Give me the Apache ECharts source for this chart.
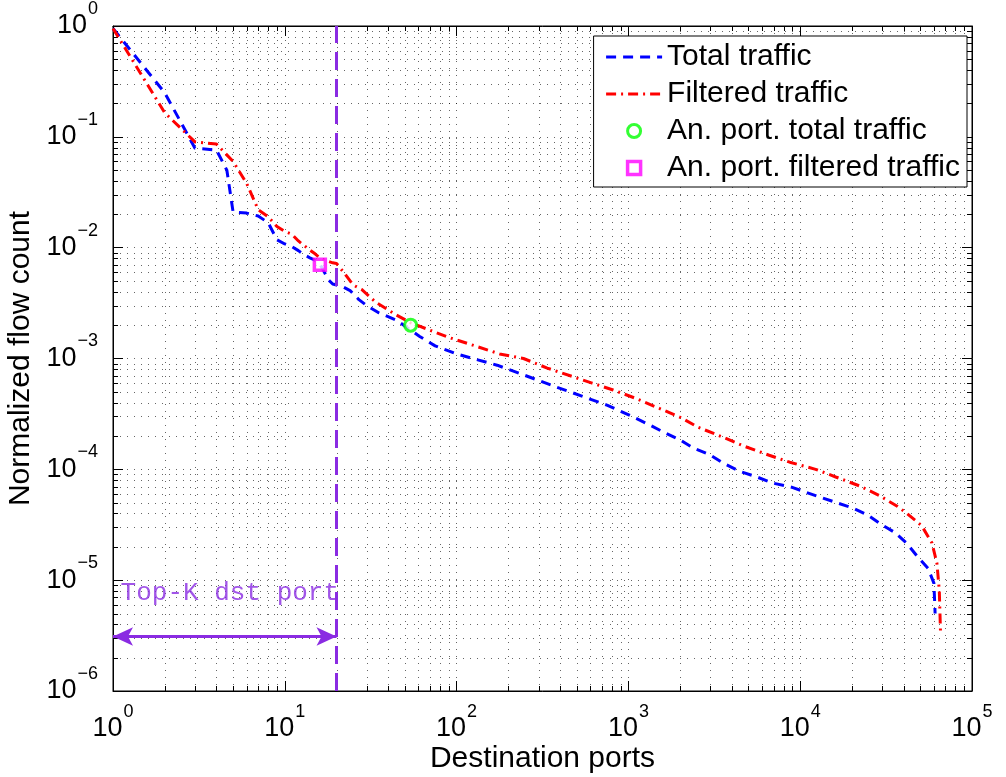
<!DOCTYPE html>
<html>
<head>
<meta charset="utf-8">
<script src="https://cdn.jsdelivr.net/npm/echarts@6/dist/echarts.min.js"></script>
<style>
html, body { margin: 0; padding: 0; background: #fff; }
#main { width: 1006px; height: 777px; }
</style>
</head>
<body>
<div id="main"></div>
<script>
// total traffic: destination port rank -> normalized flow count
var totalPorts = [1, 2, 3, 4, 4.6, 5, 6, 7, 8, 9, 10, 11, 12, 13, 14, 15, 16, 17, 18, 19, 20, 22, 24, 27, 30, 35, 45, 54, 61, 75, 100, 124, 172, 224, 295, 384, 457, 598, 750, 1070, 1340, 1590, 2000, 2380, 2990, 3550, 4450, 5600, 6900, 8900, 10400, 13000, 16600, 20300, 24700, 30000, 35500, 41700, 48500, 55500, 60000, 61000];
var totalFlow = [0.95, 0.25, 0.079, 0.076, 0.05, 0.021, 0.0205, 0.0193, 0.0168, 0.0118, 0.0108, 0.0102, 0.0094, 0.0086, 0.0081, 0.0077, 0.0071, 0.0060, 0.0051, 0.0047, 0.0046, 0.0044, 0.0041, 0.0034, 0.0030, 0.0026, 0.0022, 0.0018, 0.00158, 0.0013, 0.0011, 0.001, 0.00087, 0.00075, 0.00064, 0.00055, 0.0005, 0.00043, 0.00038, 0.000296, 0.00025, 0.000218, 0.000184, 0.000156, 0.000135, 0.000114, 0.0000958, 0.0000853, 0.0000753, 0.000069, 0.0000634, 0.0000563, 0.0000495, 0.0000447, 0.0000387, 0.0000314, 0.000027, 0.0000215, 0.0000161, 0.0000128, 0.0000094, 0.000005];

// filtered traffic
var filteredPorts = [1, 2, 3, 4, 5, 6, 7, 8, 9, 10, 11, 12, 13, 14, 15, 16, 17, 18, 19, 20, 22, 25, 28, 34, 44, 54, 70, 90, 126, 178, 245, 337, 470, 615, 815, 1090, 1480, 2000, 2540, 3550, 4650, 6600, 8700, 12300, 16100, 22200, 29200, 36500, 41600, 51000, 58500, 62500, 64500, 65535];
var filteredFlow = [0.95, 0.165, 0.09, 0.086, 0.060, 0.038, 0.022, 0.019, 0.0155, 0.014, 0.0132, 0.0115, 0.0104, 0.0095, 0.0088, 0.0081, 0.0077, 0.0075, 0.0073, 0.0072, 0.0060, 0.0046, 0.0042, 0.0032, 0.0025, 0.0021, 0.0018, 0.00155, 0.00131, 0.0011, 0.001, 0.00082, 0.00069, 0.0006, 0.00052, 0.00044, 0.00036, 0.000295, 0.00024, 0.000195, 0.000163, 0.000134, 0.000116, 0.0001, 0.0000853, 0.0000708, 0.0000575, 0.0000467, 0.0000403, 0.0000309, 0.0000216, 0.0000142, 0.0000081, 0.0000035];

// analysed ports
var anPortTotal = [54, 0.002];
var anPortFiltered = [16, 0.0070];

// top-K annotation
var topK = 20;
var topKArrowY = 3.1e-6;
var topKText = 'Top-K dst port';
var topKTextPos = [1.1, 7.6e-6];

var xMin = 1, xMax = 100000;
var yMin = 1e-6, yMax = 1;

var purple = '#8A2BE2';
var font = 'Liberation Sans';

function zip(xs, ys) {
    var out = [];
    for (var i = 0; i < xs.length; i++) out.push([xs[i], ys[i]]);
    return out;
}

// minor grid values 2..9 per decade
var minorItems = [];
for (var e = 0; e < 5; e++) {
    for (var m = 2; m < 10; m++) minorItems.push([m * Math.pow(10, e), 1, 0]);
}
for (var e2 = -6; e2 < 0; e2++) {
    for (var m2 = 2; m2 < 10; m2++) minorItems.push([1, m2 * Math.pow(10, e2), 1]);
}

function renderMinor(params, api) {
    var cs = params.coordSys;
    var kind = api.value(2);
    var p = api.coord([api.value(0), api.value(1)]);
    var dotted = { stroke: '#000', lineWidth: 1, lineDash: [1, 6], opacity: 0.6 };
    var tick = { stroke: '#000', lineWidth: 1 };
    if (kind === 0) {
        var x = Math.round(p[0]) + 0.5;
        return { type: 'group', children: [
            { type: 'line', shape: { x1: x, y1: cs.y, x2: x, y2: cs.y + cs.height }, style: dotted },
            { type: 'line', shape: { x1: x, y1: cs.y + cs.height, x2: x, y2: cs.y + cs.height - 5 }, style: tick },
            { type: 'line', shape: { x1: x, y1: cs.y, x2: x, y2: cs.y + 5 }, style: tick }
        ]};
    }
    var y = Math.round(p[1]) + 0.5;
    return { type: 'group', children: [
        { type: 'line', shape: { x1: cs.x, y1: y, x2: cs.x + cs.width, y2: y }, style: dotted },
        { type: 'line', shape: { x1: cs.x, y1: y, x2: cs.x + 5, y2: y }, style: tick },
        { type: 'line', shape: { x1: cs.x + cs.width, y1: y, x2: cs.x + cs.width - 5, y2: y }, style: tick }
    ]};
}

function powLabel(v) {
    var ex = Math.round(Math.log10(v));
    return '{b|10}{s|' + String(ex).replace('-', '\u2212') + '}';
}

var labelRich = {
    b: { fontSize: 27, fontFamily: font, color: '#000', lineHeight: 30 },
    s: { fontSize: 18, fontFamily: font, color: '#000', lineHeight: 18, padding: [0, 0, 34, 1] }
};

var splitStyle = { show: true, lineStyle: { color: '#000', width: 1, type: [1, 6], opacity: 0.6 } };

var chart = echarts.init(document.getElementById('main'));
chart.setOption({
    animation: false,
    backgroundColor: '#fff',
    textStyle: { fontFamily: font },
    grid: {
        left: 113, right: 34, top: 26, bottom: 86,
        outerBoundsMode: 'none', containLabel: false,
        show: true, borderColor: '#000', borderWidth: 1, backgroundColor: '#fff'
    },
    legend: {
        orient: 'vertical',
        right: 39,
        top: 36,
        backgroundColor: '#fff',
        borderColor: '#000',
        borderWidth: 1,
        borderRadius: 0,
        padding: [5, 7, 3, 11],
        itemGap: 5,
        itemWidth: 56,
        itemHeight: 13,
        lineStyle: { width: 3 },
        textStyle: { fontSize: 30, fontFamily: font, color: '#000', lineHeight: 32 },
        data: [
            { name: 'Total traffic', itemStyle: { opacity: 0 } },
            { name: 'Filtered traffic', itemStyle: { opacity: 0 } },
            { name: 'An. port. total traffic', itemStyle: { color: '#fff', borderColor: '#00FF00', borderWidth: 3 } },
            { name: 'An. port. filtered traffic', icon: 'path://M0,0H10V10H0Z', itemStyle: { color: '#fff', borderColor: '#FF00FF', borderWidth: 3.5 } }
        ]
    },
    xAxis: [{
        type: 'log', logBase: 10, min: xMin, max: xMax,
        name: 'Destination ports', nameLocation: 'middle', nameGap: 53, nameMoveOverlap: false,
        nameTextStyle: { fontSize: 30, fontFamily: font, color: '#000' },
        axisLine: { lineStyle: { color: '#000', width: 1 } },
        axisTick: { inside: true, length: 10, lineStyle: { color: '#000' } },
        axisLabel: { margin: 23, formatter: powLabel, rich: labelRich },
        splitLine: splitStyle
    }, {
        type: 'log', logBase: 10, min: xMin, max: xMax, position: 'top',
        axisLine: { lineStyle: { color: '#000', width: 1 } },
        axisTick: { inside: true, length: 10, lineStyle: { color: '#000' } },
        axisLabel: { show: false },
        splitLine: { show: false }
    }],
    yAxis: [{
        type: 'log', logBase: 10, min: yMin, max: yMax,
        name: 'Normalized flow count', nameLocation: 'middle', nameGap: 77, nameMoveOverlap: false,
        nameTextStyle: { fontSize: 30, fontFamily: font, color: '#000' },
        axisLine: { lineStyle: { color: '#000', width: 1 } },
        axisTick: { inside: true, length: 10, lineStyle: { color: '#000' } },
        axisLabel: { margin: 15, formatter: powLabel, rich: labelRich },
        splitLine: splitStyle
    }, {
        type: 'log', logBase: 10, min: yMin, max: yMax, position: 'right',
        axisLine: { lineStyle: { color: '#000', width: 1 } },
        axisTick: { inside: true, length: 10, lineStyle: { color: '#000' } },
        axisLabel: { show: false },
        splitLine: { show: false }
    }],
    series: [{
        type: 'custom',
        name: 'minor',
        silent: true,
        z: 1,
        renderItem: renderMinor,
        data: minorItems
    }, {
        type: 'line',
        name: 'Total traffic',
        z: 3,
        symbol: 'none',
        color: '#0000FF',
        lineStyle: { color: '#0000FF', width: 3, type: [10, 7] },
        data: zip(totalPorts, totalFlow)
    }, {
        type: 'line',
        name: 'Filtered traffic',
        z: 3,
        symbol: 'none',
        color: '#FF0000',
        lineStyle: { color: '#FF0000', width: 3, type: [10, 5, 2, 5] },
        data: zip(filteredPorts, filteredFlow)
    }, {
        type: 'scatter',
        name: 'An. port. total traffic',
        z: 5,
        symbol: 'circle',
        symbolSize: 12,
        itemStyle: { color: '#fff', borderColor: '#00FF00', borderWidth: 3 },
        data: [anPortTotal]
    }, {
        type: 'scatter',
        name: 'An. port. filtered traffic',
        z: 5,
        symbol: 'rect',
        symbolSize: 11,
        itemStyle: { color: '#fff', borderColor: '#FF00FF', borderWidth: 3.5 },
        data: [anPortFiltered]
    }, {
        type: 'scatter',
        name: 'topK',
        z: 4,
        silent: true,
        symbolSize: 1,
        itemStyle: { color: 'rgba(0,0,0,0)' },
        label: {
            show: true, position: 'right', distance: 0,
            formatter: topKText,
            fontFamily: 'Liberation Mono', fontSize: 26, color: purple
        },
        data: [topKTextPos],
        markLine: {
            silent: true,
            symbol: 'none',
            label: { show: false },
            lineStyle: { color: purple, width: 3, type: [18, 9] },
            data: [{ xAxis: topK }]
        }
    }, {
        type: 'line',
        name: 'topKArrow',
        z: 4,
        silent: true,
        data: [],
        markLine: {
            silent: true,
            symbol: ['arrow', 'arrow'],
            symbolSize: [14, 20],
            label: { show: false },
            lineStyle: { color: purple, width: 3, type: 'solid' },
            data: [[{ coord: [xMin, topKArrowY] }, { coord: [topK, topKArrowY] }]]
        }
    }]
});
</script>
</body>
</html>
